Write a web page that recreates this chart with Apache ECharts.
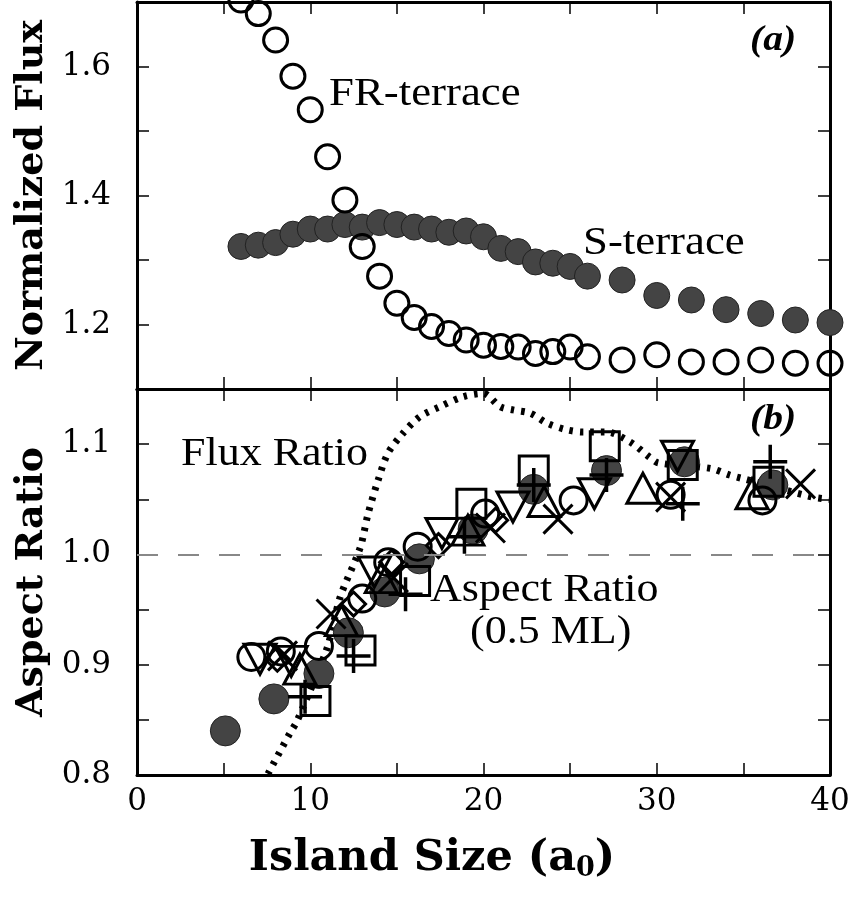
<!DOCTYPE html>
<html>
<head>
<meta charset="utf-8">
<script src="https://cdn.jsdelivr.net/npm/echarts@6/dist/echarts.min.js"></script>
<style>
html,body{margin:0;padding:0;background:#fff;}
#chart{width:856px;height:899px;}
</style>
</head>
<body>
<div id="chart"></div>
<script>
// ---------- data ----------
// panel (a): island sizes and normalized fluxes
const islandSizeTop = [6,7,8,9,10,11,12,13,14,15,16,17,18,19,20,21,22,23,24,25,26,28,30,32,34,36,38,40];
const frTerrace = [1.703,1.682,1.641,1.585,1.533,1.460,1.393,1.321,1.275,1.233,1.211,1.197,1.186,1.176,1.168,1.166,1.165,1.155,1.158,1.165,1.150,1.145,1.153,1.142,1.142,1.145,1.140,1.140];
const sTerrace  = [1.321,1.323,1.327,1.340,1.348,1.348,1.355,1.351,1.358,1.355,1.351,1.348,1.343,1.345,1.336,1.318,1.313,1.297,1.295,1.290,1.275,1.269,1.245,1.238,1.223,1.217,1.207,1.203];

// panel (b): flux ratio curve
const fluxRatioX = [7.56,8.83,9.24,10.97,11.72,12.88,13.34,13.91,14.49,15.36,16.34,17.49,18.82,19.98,20.96,21.7,22.7,23.67,24.8,25.75,27.1,28.46,29.6,30.1,33.1,34.2,34.9,39.0,40.0];
const fluxRatioY = [0.801,0.838,0.849,0.915,0.961,1.006,1.037,1.067,1.092,1.110,1.125,1.134,1.143,1.146,1.134,1.131,1.128,1.119,1.113,1.111,1.111,1.102,1.088,1.083,1.078,1.072,1.069,1.052,1.050];

// panel (b): aspect ratio, one array per marker
const arFilledCircle = [[5.1,0.840],[7.9,0.869],[10.5,0.892],[12.2,0.929],[14.3,0.966],[16.3,0.996],[19.4,1.023],[22.9,1.059],[27.1,1.076],[31.6,1.084],[36.7,1.063]];
const arOpenCircle   = [[6.6,0.907],[8.3,0.912],[10.5,0.917],[13.0,0.960],[14.5,0.993],[16.2,1.007],[20.1,1.037],[25.2,1.049],[30.8,1.054],[36.1,1.049]];
const arSquare       = [[10.3,0.867],[12.9,0.913],[16.05,0.976],[19.3,1.046],[22.9,1.076],[27.0,1.098],[31.5,1.081],[36.45,1.066]];
const arPlus         = [[9.7,0.871],[12.5,0.908],[15.5,0.964],[18.9,1.016],[22.9,1.063],[27.1,1.072],[31.5,1.046],[36.55,1.084]];
const arCross        = [[8.4,0.908],[11.2,0.946],[14.8,0.979],[20.4,1.024],[24.3,1.032],[30.8,1.052],[38.3,1.064]];
const arTriUp        = [[9.4,0.896],[11.8,0.940],[14.1,0.979],[19.1,1.022],[23.5,1.048],[29.2,1.060],[35.5,1.055]];
const arTriDown      = [[7.1,0.905],[8.9,0.903],[13.7,0.984],[17.6,1.019],[21.7,1.043],[26.4,1.055],[31.2,1.089]];
const arDiamond      = [[8.1,0.905],[12.5,0.955],[14.7,0.993],[17.4,1.008],[20.7,1.031]];

// tick labels
const xTickLabels = ['0','10','20','30','40'];
const topYTickLabels = ['1.2','1.4','1.6'];
const bottomYTickLabels = ['0.8','0.9','1.0','1.1'];

// ---------- chart ----------
const chart = echarts.init(document.getElementById('chart'), null, {renderer:'canvas'});

const tickFont = 'DejaVu Serif';
const nameFont = 'DejaVu Serif';

function labelFrom(list, digits) {
  return function (v) {
    const s = v.toFixed(digits);
    if (Math.abs(v - parseFloat(s)) > 1e-6) return '';
    return list.indexOf(s) >= 0 ? s : '';
  };
}

function axisCommon(extra) {
  return Object.assign({
    axisLine: {show:true, onZero:false, lineStyle:{color:'#000', width:3}},
    axisTick: {show:true, inside:true, length:12, lineStyle:{color:'#000', width:1.5}},
    splitLine: {show:false},
    axisLabel: {show:false}
  }, extra);
}

const gridLeft = 137, gridW = 693;
const tickLabelStyle = {show:true, fontFamily:tickFont, fontSize:31, color:'#000'};

const option = {
  backgroundColor: '#fff',
  animation: false,
  grid: [
    {left: gridLeft, width: gridW, top: 2, height: 387},
    {left: gridLeft, width: gridW, top: 389, height: 386}
  ],
  xAxis: [
    axisCommon({type:'value', gridIndex:0, position:'bottom', min:0, max:40, interval:5}),
    axisCommon({type:'value', gridIndex:0, position:'top', min:0, max:40, interval:5}),
    axisCommon({type:'value', gridIndex:1, position:'bottom', min:0, max:40, interval:5,
      axisLabel:Object.assign({margin:11, formatter: labelFrom(xTickLabels, 0)}, tickLabelStyle),
      name:'{n|Island Size (a}{s|0}{n|)}', nameLocation:'middle', nameGap:61,
      nameTextStyle:{padding:[0,103,0,0], rich:{
        n:{fontFamily:nameFont, fontWeight:'bold', fontSize:43, color:'#000'},
        s:{fontFamily:nameFont, fontWeight:'bold', fontSize:27, color:'#000', padding:[19,0,0,0]}
      }}
    }),
    axisCommon({type:'value', gridIndex:1, position:'top', min:0, max:40, interval:5})
  ],
  yAxis: [
    axisCommon({type:'value', gridIndex:0, position:'left', min:1.1, max:1.7, interval:0.1,
      axisLabel:Object.assign({margin:26, formatter: labelFrom(topYTickLabels, 1)}, tickLabelStyle),
      name:'Normalized Flux', nameLocation:'middle', nameGap:84,
      nameTextStyle:{fontFamily:nameFont, fontWeight:'bold', fontSize:38, color:'#000'}
    }),
    axisCommon({type:'value', gridIndex:0, position:'right', min:1.1, max:1.7, interval:0.1}),
    axisCommon({type:'value', gridIndex:1, position:'left', min:0.8, max:1.15, interval:0.05,
      axisLabel:Object.assign({margin:26, formatter: labelFrom(bottomYTickLabels, 1)}, tickLabelStyle),
      name:'Aspect Ratio', nameLocation:'middle', nameGap:84,
      nameTextStyle:{fontFamily:nameFont, fontWeight:'bold', fontSize:38, color:'#000'}
    }),
    axisCommon({type:'value', gridIndex:1, position:'right', min:0.8, max:1.15, interval:0.05})
  ],
  series: [
    {
      name:'S-terrace', type:'scatter', xAxisIndex:0, yAxisIndex:0,
      data: islandSizeTop.map((x,i)=>[x, sTerrace[i]]),
      symbol:'circle', symbolSize:26, clip:false, z:3,
      itemStyle:{color:'#444', borderColor:'#222', borderWidth:1, opacity:1}
    },
    {
      name:'FR-terrace', type:'scatter', xAxisIndex:0, yAxisIndex:0,
      data: islandSizeTop.map((x,i)=>[x, frTerrace[i]]),
      symbol:'circle', symbolSize:24, clip:false, z:4,
      itemStyle:{color:'rgba(0,0,0,0)', borderColor:'#000', borderWidth:3, opacity:1}
    },
    {
      name:'Flux Ratio', type:'line', xAxisIndex:2, yAxisIndex:2,
      data: fluxRatioX.map((x,i)=>[x, fluxRatioY[i]]),
      smooth:0.3, showSymbol:false, symbol:'none', z:1, clip:true,
      lineStyle:{color:'#000', width:7, type:[3.5,7], cap:'butt'},
      markLine:{
        silent:true, symbol:['none','none'], label:{show:false},
        lineStyle:{color:'#888', width:2, type:[21,20]},
        data:[{yAxis:1.0}]
      }
    },
    {
      name:'AR filled circle', type:'scatter', xAxisIndex:2, yAxisIndex:2, data:arFilledCircle,
      symbol:'circle', symbolSize:30, z:3,
      itemStyle:{color:'#444', borderColor:'#222', borderWidth:1, opacity:1}
    },
    {
      name:'AR open circle', type:'scatter', xAxisIndex:2, yAxisIndex:2, data:arOpenCircle,
      symbol:'circle', symbolSize:27, z:4,
      itemStyle:{color:'rgba(0,0,0,0)', borderColor:'#000', borderWidth:3, opacity:1}
    },
    {
      name:'AR square', type:'scatter', xAxisIndex:2, yAxisIndex:2, data:arSquare,
      symbol:'rect', symbolSize:29, z:4,
      itemStyle:{color:'rgba(0,0,0,0)', borderColor:'#000', borderWidth:3, opacity:1}
    },
    {
      name:'AR plus', type:'scatter', xAxisIndex:2, yAxisIndex:2, data:arPlus,
      symbol:'path://M0,10L20,10M10,0L10,20', symbolSize:34, z:4,
      itemStyle:{color:'rgba(0,0,0,0)', borderColor:'#000', borderWidth:3.5, opacity:1}
    },
    {
      name:'AR cross', type:'scatter', xAxisIndex:2, yAxisIndex:2, data:arCross,
      symbol:'path://M0,0L20,20M20,0L0,20', symbolSize:29, z:4,
      itemStyle:{color:'rgba(0,0,0,0)', borderColor:'#000', borderWidth:3, opacity:1}
    },
    {
      name:'AR triangle up', type:'scatter', xAxisIndex:2, yAxisIndex:2, data:arTriUp,
      symbol:'triangle', symbolSize:[32,30], z:4,
      itemStyle:{color:'rgba(0,0,0,0)', borderColor:'#000', borderWidth:3, opacity:1}
    },
    {
      name:'AR triangle down', type:'scatter', xAxisIndex:2, yAxisIndex:2, data:arTriDown,
      symbol:'triangle', symbolRotate:180, symbolSize:[32,30], z:4,
      itemStyle:{color:'rgba(0,0,0,0)', borderColor:'#000', borderWidth:3, opacity:1}
    },
    {
      name:'AR diamond', type:'scatter', xAxisIndex:2, yAxisIndex:2, data:arDiamond,
      symbol:'diamond', symbolSize:24, z:4,
      itemStyle:{color:'rgba(0,0,0,0)', borderColor:'#000', borderWidth:3, opacity:1}
    }
  ],
  graphic: [
    {type:'text', x:329, y:94, scaleX:1.12, z:10,
      style:{text:'FR-terrace', font:'40px "Liberation Serif"', fill:'#000', align:'left', verticalAlign:'middle'}},
    {type:'text', x:583, y:243, scaleX:1.12, z:10,
      style:{text:'S-terrace', font:'40px "Liberation Serif"', fill:'#000', align:'left', verticalAlign:'middle'}},
    {type:'text', x:750, y:41, scaleX:1.1, z:10,
      style:{text:'(a)', font:'italic bold 36px "Liberation Serif"', fill:'#000', align:'left', verticalAlign:'middle'}},
    {type:'text', x:750, y:420, scaleX:1.1, z:10,
      style:{text:'(b)', font:'italic bold 36px "Liberation Serif"', fill:'#000', align:'left', verticalAlign:'middle'}},
    {type:'text', x:181, y:454, scaleX:1.1, z:10,
      style:{text:'Flux Ratio', font:'40px "Liberation Serif"', fill:'#000', align:'left', verticalAlign:'middle'}},
    {type:'text', x:430, y:590, scaleX:1.1, z:10,
      style:{text:'Aspect Ratio', font:'40px "Liberation Serif"', fill:'#000', align:'left', verticalAlign:'middle'}},
    {type:'text', x:470, y:632, scaleX:1.1, z:10,
      style:{text:'(0.5 ML)', font:'40px "Liberation Serif"', fill:'#000', align:'left', verticalAlign:'middle'}}
  ]
};

chart.setOption(option);
</script>
</body>
</html>
